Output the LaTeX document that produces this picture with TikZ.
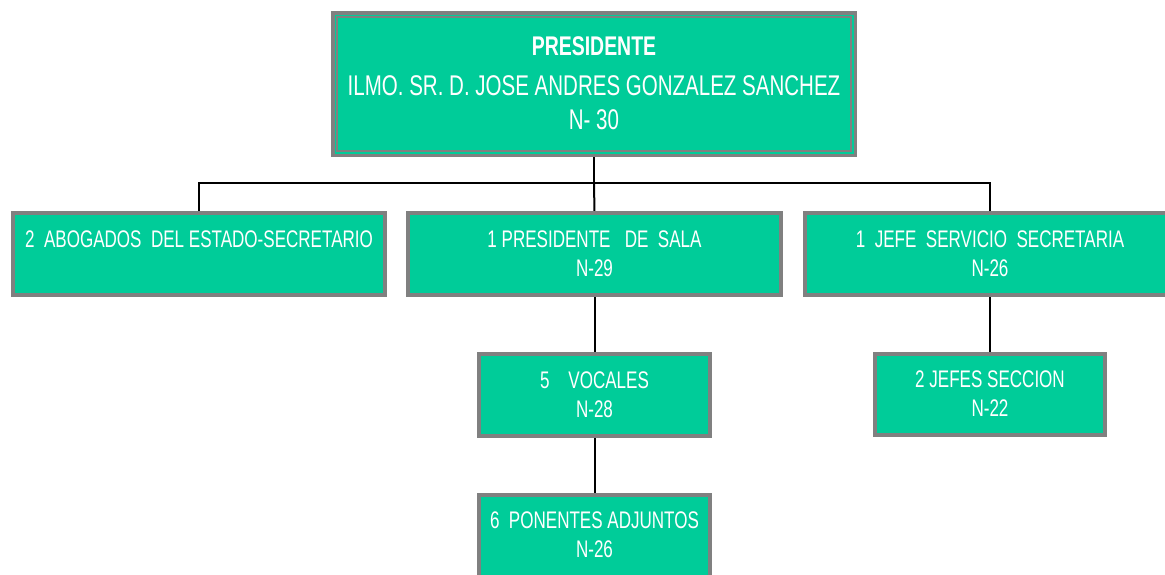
\documentclass[tikz,border=0pt]{standalone}
\usepackage{fontspec}
\setmainfont{Liberation Sans}[FakeStretch=0.71]
\newfontfamily\topfont{Liberation Sans}[FakeStretch=0.72]
\usetikzlibrary{backgrounds}
\definecolor{boxgreen}{RGB}{0,204,153}
\definecolor{boxgray}{RGB}{128,128,128}
\tikzset{
  box/.style={draw=boxgray, line width=4pt, fill=boxgreen, inner sep=0pt, outer sep=0pt},
  lbl/.style={text=white, anchor=base, inner sep=0pt, outer sep=0pt, font=\fontsize{24}{24}\selectfont},
  biglbl/.style={text=white, anchor=base, inner sep=0pt, outer sep=0pt, font=\topfont\fontsize{28.5}{28.5}\selectfont},
  conn/.style={draw=black, line width=2pt}
}
\begin{document}
\begin{tikzpicture}[x=1pt,y=-1pt]
\useasboundingbox (0,0) rectangle (1165,574);
\clip (0,0) rectangle (1165,574);
% boxes
\node[box, line width=3.5pt, minimum width=522.5pt, minimum height=142.5pt] (T) at (594,84) {};
\draw[boxgray, line width=1.8pt] ([shift={(4.5pt,-4.5pt)}]T.north west) rectangle ([shift={(-4.5pt,4.5pt)}]T.south east);
\node[box, minimum width=372pt, minimum height=82pt] (A) at (199,254) {};
\node[box, minimum width=373pt, minimum height=82pt] (B) at (594.5,254) {};
\node[box, minimum width=370pt, minimum height=82pt] (C) at (990,254) {};
\node[box, minimum width=231pt, minimum height=82pt] (D) at (594.5,395) {};
\node[box, minimum width=231pt, minimum height=82pt] (E) at (594.5,536) {};
\node[box, minimum width=230pt, minimum height=81pt] (F) at (990,394.5) {};
% connectors
\coordinate (hub) at (594,183);
\begin{scope}[on background layer]
\draw[conn] (T.south) -- (hub);
\draw[conn] (A.north) |- (hub);
\draw[conn] (C.north) |- (hub);
\draw[conn] (hub) -- (B.north);
\draw[conn] (B.south) -- (D.north);
\draw[conn] (D.south) -- (E.north);
\draw[conn] (C.south) -- (F.north);
\end{scope}
% labels
\node[biglbl, font=\topfont\fontsize{27}{27}\selectfont\bfseries] (t1) at (594,55) {PRESIDENTE};
\node[biglbl] (t2) at (594,95) {ILMO. SR. D. JOSE ANDRES GONZALEZ SANCHEZ};
\node[biglbl] (t3) at (594,129) {N- 30};
\node[lbl] (a1) at (199,247) {2\ \ ABOGADOS\ \ DEL ESTADO-SECRETARIO};
\node[lbl] (b1) at (594.5,247) {1 PRESIDENTE\ \ \ DE\ \ SALA};
\node[lbl] (b2) at (594.5,276) {N-29};
\node[lbl] (c1) at (990,247) {1\ \ JEFE\ \ SERVICIO\ \ SECRETARIA};
\node[lbl] (c2) at (990,276) {N-26};
\node[lbl] (d1) at (594.5,388) {5\ \ \ \ VOCALES};
\node[lbl] (d2) at (594.5,417) {N-28};
\node[lbl] (e1) at (594.5,528) {6\ \ PONENTES ADJUNTOS};
\node[lbl] (e2) at (594.5,557) {N-26};
\node[lbl] (f1) at (990,387) {2 JEFES SECCION};
\node[lbl] (f2) at (990,416) {N-22};
\end{tikzpicture}
\end{document}
